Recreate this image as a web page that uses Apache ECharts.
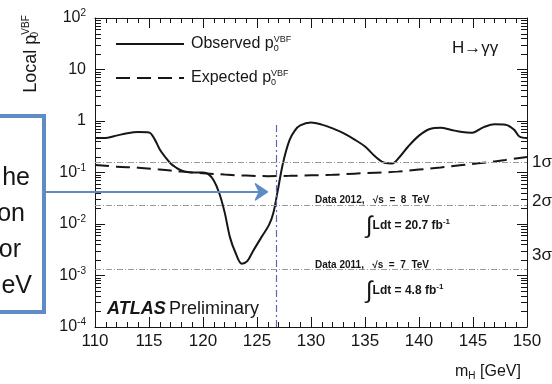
<!DOCTYPE html>
<html><head><meta charset="utf-8">
<script src="https://cdn.jsdelivr.net/npm/echarts@6/dist/echarts.min.js"></script>
<style>html,body{margin:0;padding:0;background:#fff}#c{width:552px;height:384px}</style>
</head><body><div id="c"></div>
<script>
// ---- data ----
const massObs = [110, 111, 112, 113, 114, 115, 115.5, 116, 116.5, 117, 117.5, 118, 119, 120, 120.5, 121, 121.5, 122, 122.5, 123, 123.6, 124.1, 124.6, 125.4, 126.1, 126.5, 126.9, 127.4, 128, 128.5, 129, 130, 131, 132, 133, 134, 135, 136, 136.8, 137.5, 138.2, 139, 140, 141, 142, 143, 144, 144.8, 146, 147, 148, 148.8, 149.3, 150];
const pObs = [0.47, 0.47, 0.52, 0.58, 0.61, 0.60, 0.45, 0.28, 0.20, 0.15, 0.125, 0.11, 0.10, 0.10, 0.093, 0.07, 0.04, 0.017, 0.0055, 0.0028, 0.0017, 0.0019, 0.0029, 0.0055, 0.0095, 0.016, 0.042, 0.15, 0.42, 0.65, 0.82, 0.93, 0.85, 0.72, 0.58, 0.44, 0.32, 0.20, 0.155, 0.15, 0.20, 0.32, 0.52, 0.70, 0.74, 0.67, 0.61, 0.59, 0.76, 0.86, 0.85, 0.68, 0.50, 0.47];
const massExp = [110, 112, 114, 116, 118, 120, 122, 124, 126, 128, 130, 132, 134, 136, 138, 140, 142, 144, 146, 148, 150];
const pExp = [0.14, 0.13, 0.124, 0.114, 0.104, 0.097, 0.091, 0.087, 0.085, 0.086, 0.088, 0.09, 0.095, 0.099, 0.104, 0.114, 0.125, 0.14, 0.155, 0.175, 0.2];
const sigmaLevels = [0.1587, 0.02275, 0.00135];
const sigmaLabels = ['1σ', '2σ', '3σ'];
const xMin = 110, xMax = 150, xStep = 5;
const yMin = 1e-4, yMax = 1e2;
const minorMultipliers = [2, 3, 4, 5, 6, 7, 8, 9];
const peakMass = 126.8;
const peakLineTop = 0.95;
const arrowP = 0.042;
const boxLines = ['he', 'on', 'or', 'eV'];

const FONT = "'Liberation Sans', Arial, sans-serif";
const NARROW = "'Liberation Sans Narrow', 'Liberation Sans', Arial, sans-serif";
const INK = '#161616';

const decades = [];
for (let e = Math.log10(yMin); e <= Math.log10(yMax); e++) decades.push(Math.pow(10, e));
const yMinorTicks = [];
decades.slice(0, -1).forEach(d => minorMultipliers.forEach(m => yMinorTicks.push(d * m)));

function yLabel(v) {
  const e = Math.round(Math.log10(v));
  if (e === 0) return '1';
  if (e === 1) return '10';
  return '10{s|' + e + '}';
}

const chart = echarts.init(document.getElementById('c'), null, {renderer: 'canvas'});

const xAxisCommon = {
  type: 'value', min: xMin, max: xMax, interval: xStep,
  axisLine: {show: true, lineStyle: {color: INK, width: 1}},
  axisTick: {show: true, inside: true, length: 10, lineStyle: {color: INK}},
  minorTick: {show: true, splitNumber: 5, length: 5, lineStyle: {color: INK}},
  splitLine: {show: false}, minorSplitLine: {show: false}
};
const yAxisCommon = {
  type: 'log', logBase: 10, min: yMin, max: yMax,
  axisLine: {show: true, lineStyle: {color: INK, width: 1}},
  axisTick: {show: true, inside: true, length: 10, lineStyle: {color: INK}},
  splitLine: {show: false}
};

const legendText = {
  fontFamily: NARROW, fontSize: 16, color: INK, padding: [0, 0, 0, 2],
  rich: {
    t: {fontFamily: NARROW, fontSize: 16, color: INK},
    sub: {fontFamily: FONT, fontSize: 9, color: INK, width: 0, padding: [9, 0, 0, 0]},
    sup: {fontFamily: FONT, fontSize: 9, color: INK, padding: [0, 0, 9, 0]}
  }
};

const option = {
  backgroundColor: '#fff',
  animation: false,
  grid: {left: 95, right: 25, top: 18, bottom: 57, containLabel: false, outerBoundsMode: 'none'},
  xAxis: [
    Object.assign({}, xAxisCommon, {
      position: 'bottom',
      axisLabel: {show: true, fontFamily: FONT, fontSize: 17, color: INK, margin: 6, showMinLabel: true, showMaxLabel: true, hideOverlap: false}
    }),
    Object.assign({}, xAxisCommon, {position: 'top', axisLabel: {show: false}})
  ],
  yAxis: [
    Object.assign({}, yAxisCommon, {
      position: 'left',
      axisLabel: {show: true, fontFamily: FONT, fontSize: 16, color: INK, margin: 9, showMinLabel: true, showMaxLabel: true, hideOverlap: false,
        formatter: yLabel, rich: {s: {fontFamily: FONT, fontSize: 10, color: INK, padding: [0, 0, 9, 0]}}}
    }),
    Object.assign({}, yAxisCommon, {position: 'right', axisLabel: {show: false}})
  ],
  legend: {
    data: ['Observed', 'Expected'], orient: 'vertical', left: 110, top: 30, itemWidth: 68, itemHeight: 14, itemGap: 16,
    formatter: name => '{t|' + name + ' p}{sub|0}{sup|VBF}', textStyle: legendText,
    itemStyle: {opacity: 0}, selectedMode: false
  },
  series: [
    {
      name: 'Observed', type: 'line', xAxisIndex: 0, yAxisIndex: 0,
      data: massObs.map((m, i) => [m, pObs[i]]),
      symbol: 'none', showSymbol: false, smooth: 0.35, z: 4,
      lineStyle: {color: INK, width: 2}, itemStyle: {color: INK},
      markLine: {
        silent: true, symbol: ['none', 'none'], animation: false, precision: 8,
        data: sigmaLevels.map((v, i) => ({
          yAxis: v,
          lineStyle: {color: '#9b9b9b', type: [6, 2, 1, 2], width: 1},
          label: {show: true, position: 'end', distance: 5, formatter: sigmaLabels[i], fontFamily: FONT, fontSize: 17, color: INK,
                  offset: [0, [0, -4, -13][i]]}
        })).concat([[
          {coord: [peakMass, yMin], lineStyle: {color: '#5868b4', type: [7, 3, 2, 3], width: 1.2}, label: {show: false}},
          {coord: [peakMass, peakLineTop]}
        ]])
      }
    },
    {
      name: 'Expected', type: 'line', xAxisIndex: 0, yAxisIndex: 0,
      data: massExp.map((m, i) => [m, pExp[i]]),
      symbol: 'none', showSymbol: false, smooth: 0.4, z: 3,
      lineStyle: {color: INK, width: 2, type: [14, 7]}, itemStyle: {color: INK}
    }
  ]
};
chart.setOption(option);

// ---- log minor ticks on left/right frame, positioned through the axis scales ----
const graphics = [];
yMinorTicks.forEach(v => {
  const pl = chart.convertToPixel({xAxisIndex: 0, yAxisIndex: 0}, [xMin, v]);
  const pr = chart.convertToPixel({xAxisIndex: 0, yAxisIndex: 0}, [xMax, v]);
  if (!pl || !pr) return;
  const y = Math.round(pl[1]) + 0.5;
  graphics.push({type: 'line', silent: true, shape: {x1: pl[0], y1: y, x2: pl[0] + 6, y2: y}, style: {stroke: INK, lineWidth: 1}, z: 50});
  graphics.push({type: 'line', silent: true, shape: {x1: pr[0] - 6, y1: y, x2: pr[0], y2: y}, style: {stroke: INK, lineWidth: 1}, z: 50});
});

// ---- annotations ----
const tip = chart.convertToPixel({xAxisIndex: 0, yAxisIndex: 0}, [peakMass, arrowP]);
const ax = tip[0] - 9, ay = tip[1];
const BLUE = '#5f8bc6';
const dataLine = (t) => ({text: t, font: "bold 10px 'Liberation Sans', Arial, sans-serif", fill: INK, verticalAlign: 'middle'});
const lumiRich = {i: {fontFamily: FONT, fontSize: 24, fill: INK}, t: {fontFamily: FONT, fontSize: 12, fontWeight: 'bold', fill: INK},
                  s: {fontFamily: FONT, fontSize: 8, fontWeight: 'bold', fill: INK, padding: [0, 0, 9, 0]}};
graphics.push(
  {type: 'rect', shape: {x: -10, y: 116, width: 54, height: 196}, style: {fill: '#fff', stroke: BLUE, lineWidth: 4}, z: 10},
  {type: 'line', shape: {x1: 46, y1: ay, x2: ax - 2, y2: ay}, style: {stroke: BLUE, lineWidth: 2}, z: 10},
  {type: 'polygon', shape: {points: [[ax, ay], [ax - 12, ay - 8], [ax - 8, ay], [ax - 12, ay + 8]]}, style: {fill: BLUE, stroke: BLUE, lineWidth: 1.5, lineJoin: 'round'}, z: 10},
  {type: 'text', x: 452, y: 48, style: {text: 'H→γγ', font: "17px 'Liberation Sans', Arial, sans-serif", fill: INK, verticalAlign: 'middle'}, z: 10},
  {type: 'text', x: 107, y: 309, style: {text: '{a|ATLAS} {b|Preliminary}', verticalAlign: 'middle',
     rich: {a: {fontFamily: FONT, fontSize: 18, fontWeight: 'bold', fontStyle: 'italic', fill: INK}, b: {fontFamily: FONT, fontSize: 18, fill: INK}}}, z: 10},
  {type: 'text', x: 315, y: 200, style: dataLine('Data 2012,   √s  =  8  TeV'), z: 10},
  {type: 'text', x: 366, y: 226, style: {text: '{i|∫}{t|Ldt = 20.7 fb}{s|-1}', verticalAlign: 'middle', rich: lumiRich}, z: 10},
  {type: 'text', x: 315, y: 265, style: dataLine('Data 2011,   √s  =  7  TeV'), z: 10},
  {type: 'text', x: 366, y: 291, style: {text: '{i|∫}{t|Ldt = 4.8 fb}{s|-1}', verticalAlign: 'middle', rich: lumiRich}, z: 10},
  {type: 'text', x: 455, y: 372, style: {text: '{t|m}{s|H}{t| [GeV]}', verticalAlign: 'middle',
     rich: {t: {fontFamily: FONT, fontSize: 16, fill: INK}, s: {fontFamily: FONT, fontSize: 10, fill: INK, padding: [8, 0, 0, 0]}}}, z: 10},
  {type: 'text', x: 31, y: 54, rotation: Math.PI / 2, style: {text: '{t|Local p}{b|0}{u|VBF}', align: 'center', verticalAlign: 'middle',
     rich: {t: {fontFamily: FONT, fontSize: 18, fill: INK}, b: {fontFamily: FONT, fontSize: 10, fill: INK, width: 0, padding: [9, 0, 0, 0]}, u: {fontFamily: FONT, fontSize: 10, fill: INK, padding: [0, 0, 9, 0]}}}, z: 10}
);
const boxRight = [30, 25, 21, 32];
const boxBase = [178, 214, 250, 286];
boxLines.forEach((t, i) => graphics.push({type: 'text', x: boxRight[i], y: boxBase[i], style: {text: t, font: "25px 'Liberation Sans', Arial, sans-serif", fill: INK, align: 'right', verticalAlign: 'middle'}, z: 11}));
chart.setOption({graphic: {elements: graphics}});
</script>
</body></html>
